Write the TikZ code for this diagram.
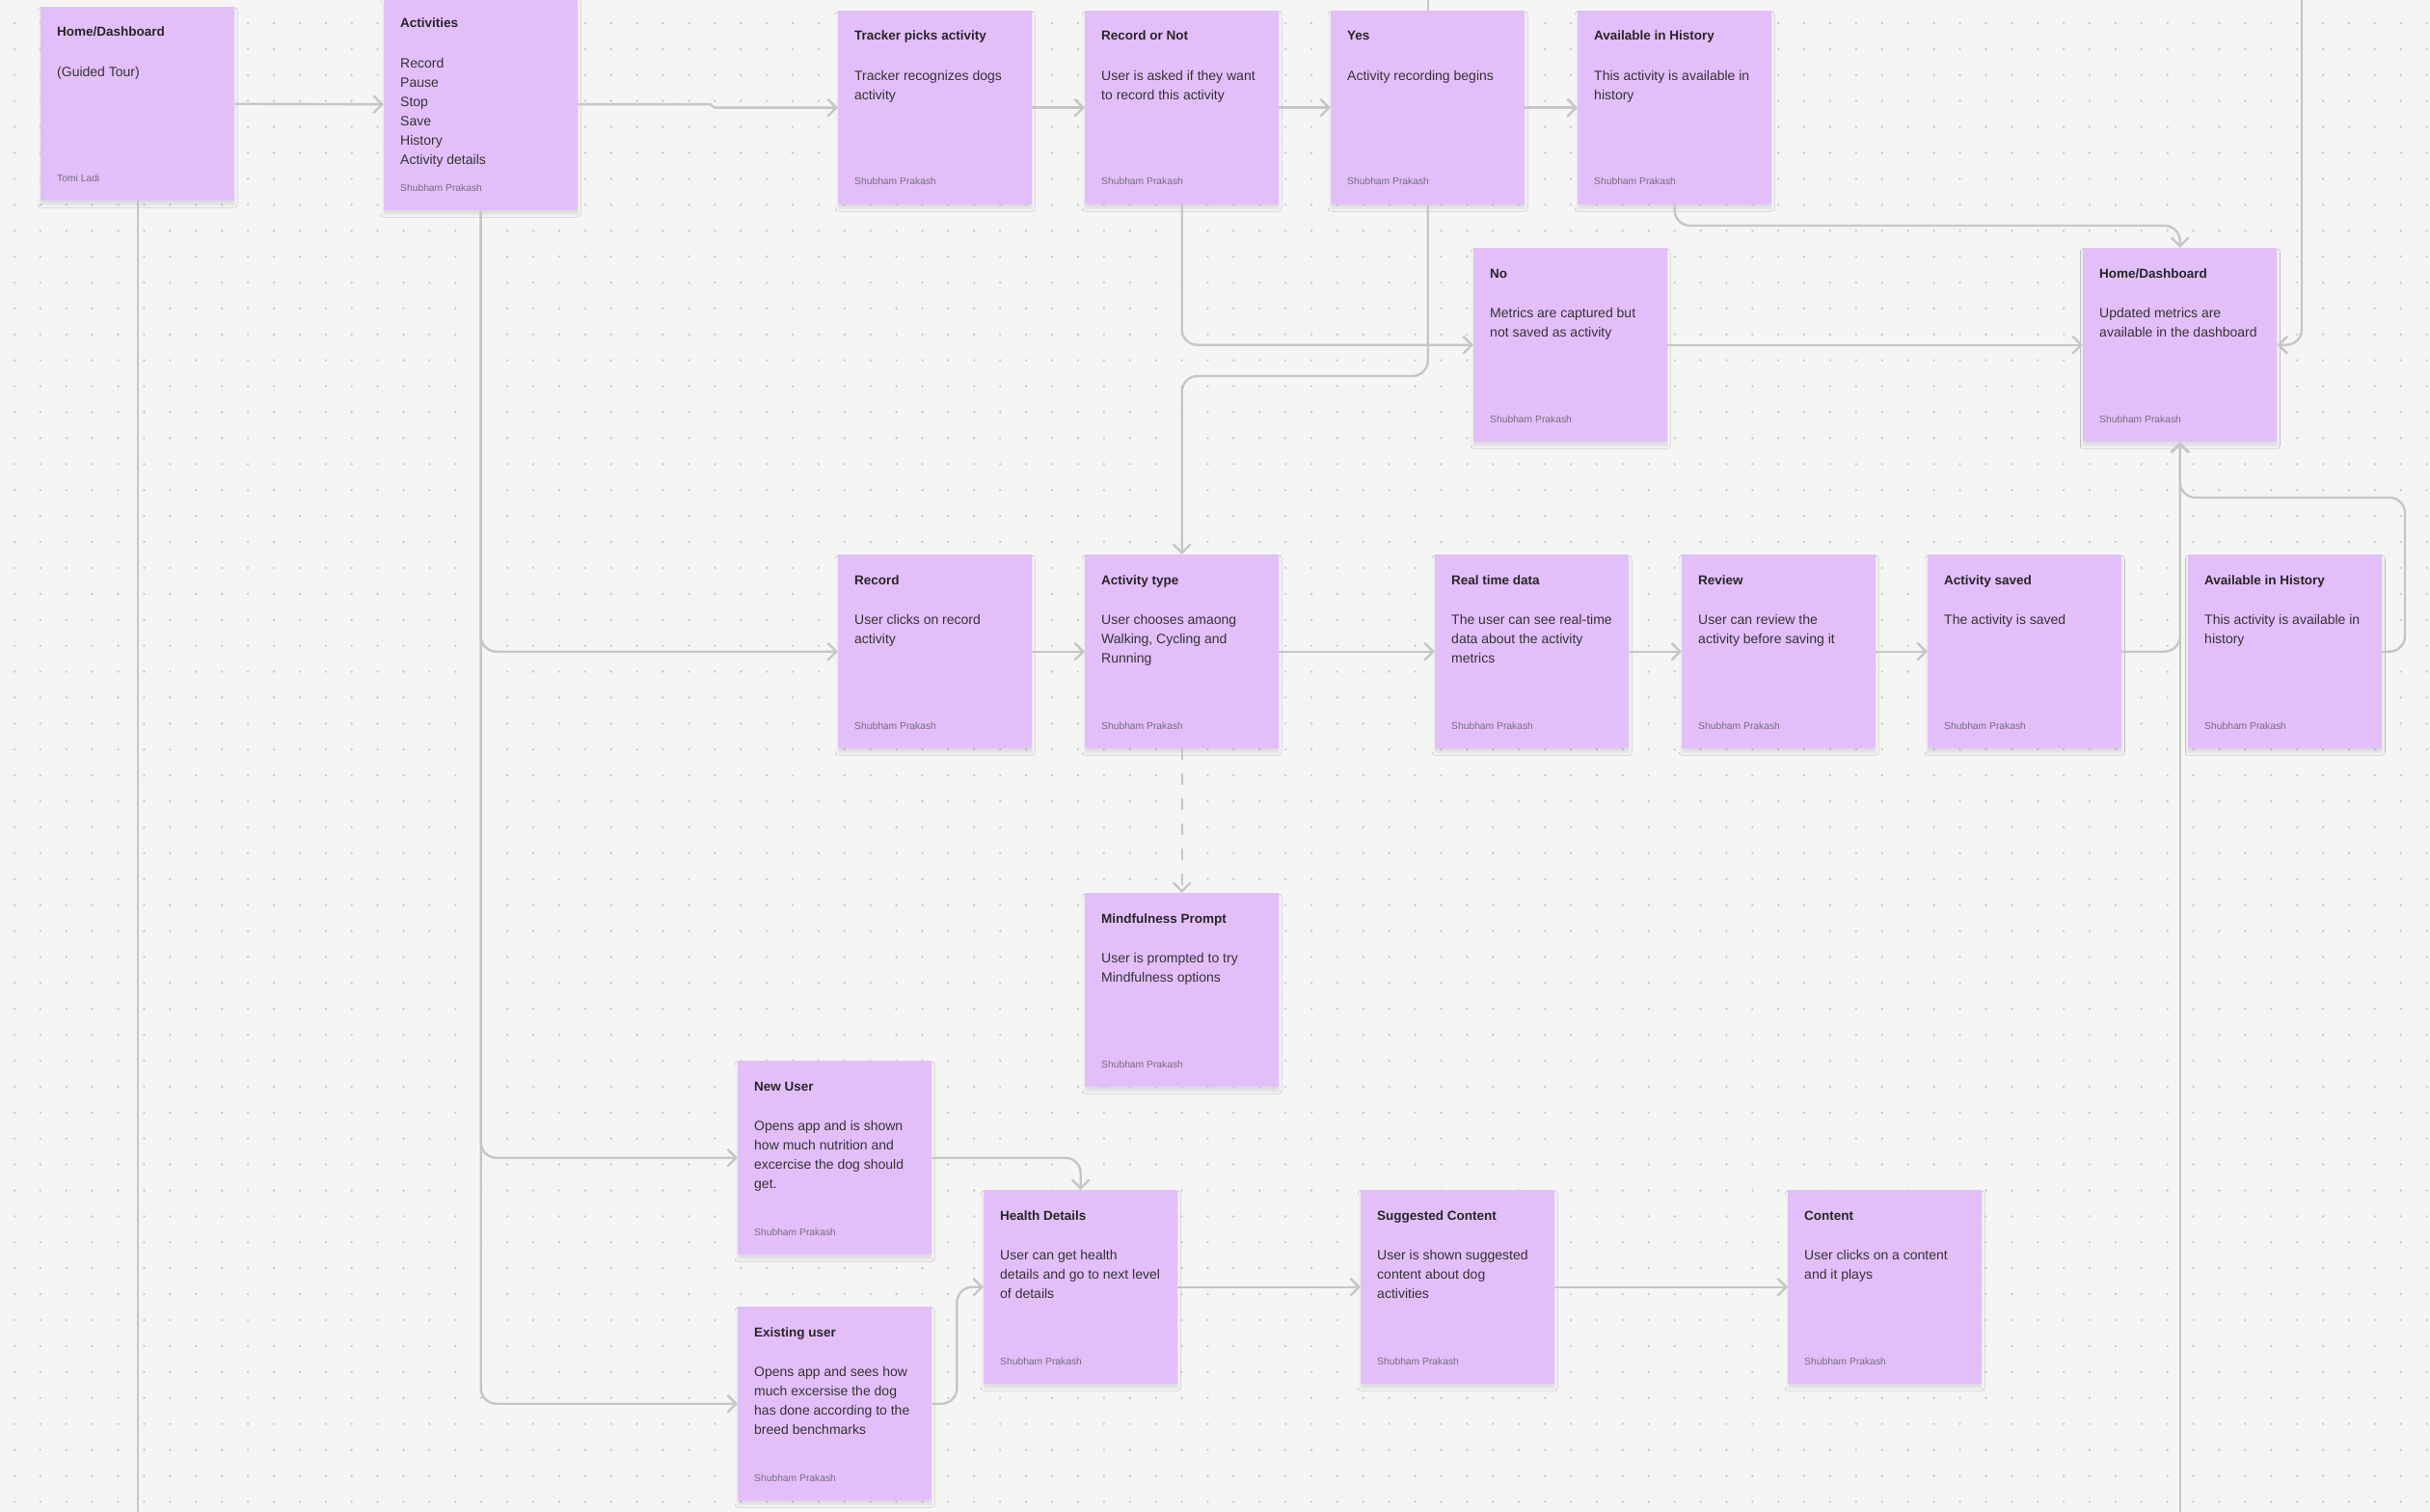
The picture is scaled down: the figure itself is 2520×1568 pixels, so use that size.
\documentclass[tikz,border=0pt]{standalone}
\usepackage{fontspec}
\setmainfont{Liberation Sans}
\usetikzlibrary{arrows.meta,calc,shadows.blur}
\definecolor{bg}{RGB}{245,245,245}
\definecolor{cardc}{RGB}{227,191,250}
\definecolor{linec}{RGB}{198,198,198}
\definecolor{dotc}{RGB}{200,200,200}
\definecolor{ttlc}{RGB}{38,38,38}
\definecolor{bodyc}{RGB}{51,51,51}
\definecolor{authc}{RGB}{118,108,124}
\tikzset{
 cardbox/.style={draw=none, fill=cardc, minimum width=201pt, inner sep=0pt, anchor=north west,
   blur shadow={shadow xshift=0pt, shadow yshift=-4pt, shadow blur radius=3pt, shadow opacity=10}},
 ttl/.style={anchor=base west, inner sep=0pt, font=\bfseries\fontsize{13.5}{16}\selectfont, text=ttlc},
 bodytext/.style={anchor=north west, inner sep=0pt, align=left, font=\fontsize{14}{20}\selectfont, text=bodyc},
 auth/.style={anchor=base west, inner sep=0pt, font=\fontsize{10.3}{12}\selectfont, text=authc},
 conn/.style={draw=linec, line width=2.4pt, rounded corners=16pt},
 arr/.style={conn, -{Straight Barb[length=9pt,width=18pt]}},
}
\newcommand{\mkcard}[7]{%
  \node[cardbox, minimum height=#4pt] (#1) at (#2,#3) {};
  \node[ttl] (#1-t) at ($(#1.north west)+(17,31)$) {#5};
  \node[bodytext] (#1-b) at ($(#1.north west)+(17,58)$) {\strut#6};
  \node[auth] (#1-a) at ($(#1.north west)+(17,#4-20)$) {#7};
}
\begin{document}
\begin{tikzpicture}[x=1pt,y=-1pt]
\useasboundingbox (0,0) rectangle (2520,1568);
\fill[bg] (0,0) rectangle (2520,1568);
\foreach \i in {0,...,93} {
  \foreach \j in {0,...,57} {
    \fill[dotc] ({15+26.9*\i},{24+26.9*\j}) circle (1.3pt);
  }
}
% cards
\mkcard{hd1}{42}{7}{201}{Home/Dashboard}{(Guided Tour)}{Tomi Ladi}
\mkcard{act}{398}{-2}{220}{Activities}{Record\\Pause\\Stop\\Save\\History\\Activity details}{Shubham Prakash}
\mkcard{trk}{869}{11}{201}{Tracker picks activity}{Tracker recognizes dogs\\activity}{Shubham Prakash}
\mkcard{ron}{1125}{11}{201}{Record or Not}{User is asked if they want\\to record this activity}{Shubham Prakash}
\mkcard{yes}{1380}{11}{201}{Yes}{Activity recording begins}{Shubham Prakash}
\mkcard{av1}{1636}{11}{201}{Available in History}{This activity is available in\\history}{Shubham Prakash}
\mkcard{no}{1528}{257}{201}{No}{Metrics are captured but\\not saved as activity}{Shubham Prakash}
\mkcard{hd2}{2160}{257}{201}{Home/Dashboard}{Updated metrics are\\available in the dashboard}{Shubham Prakash}
\mkcard{rec}{869}{575}{201}{Record}{User clicks on record\\activity}{Shubham Prakash}
\mkcard{atype}{1125}{575}{201}{Activity type}{User chooses amaong\\Walking, Cycling and\\Running}{Shubham Prakash}
\mkcard{rtd}{1488}{575}{201}{Real time data}{The user can see real-time\\data about the activity\\metrics}{Shubham Prakash}
\mkcard{rev}{1744}{575}{201}{Review}{User can review the\\activity before saving it}{Shubham Prakash}
\mkcard{sav}{1999}{575}{201}{Activity saved}{The activity is saved}{Shubham Prakash}
\mkcard{av2}{2269}{575}{201}{Available in History}{This activity is available in\\history}{Shubham Prakash}
\mkcard{mind}{1125}{926}{201}{Mindfulness Prompt}{User is prompted to try\\Mindfulness options}{Shubham Prakash}
\mkcard{nu}{765}{1100}{201}{New User}{Opens app and is shown\\how much nutrition and\\excercise the dog should\\get.}{Shubham Prakash}
\mkcard{hlth}{1020}{1234}{201}{Health Details}{User can get health\\details and go to next level\\of details}{Shubham Prakash}
\mkcard{sug}{1411}{1234}{201}{Suggested Content}{User is shown suggested\\content about dog\\activities}{Shubham Prakash}
\mkcard{cont}{1854}{1234}{201}{Content}{User clicks on a content\\and it plays}{Shubham Prakash}
\mkcard{exu}{765}{1355}{201}{Existing user}{Opens app and sees how\\much excersise the dog\\has done according to the\\breed benchmarks}{Shubham Prakash}
% free ends
\coordinate (yestop) at (yes.north |- 0,0);
\coordinate (rtop) at (2387,0);
\coordinate (hdbot) at (hd1.south |- 0,1568);
\coordinate (h2bot) at (hd2.south |- 0,1568);
\coordinate (av2r) at (2494,516);
% connectors
\draw[arr] (hd1.east) -- (act.west);
\draw[arr, sharp corners] (act.east) -- ($(act.east)+(137,0)$) -- ($(trk.west)+(-128,0)$) -- (trk.west);
\draw[arr] (trk.east) -- (ron.west);
\draw[arr] (ron.east) -- (yes.west);
\draw[arr] (yes.east) -- (av1.west);
\draw[arr] (av1.south) -- (av1.south |- 0,234) -| (hd2.north);
\draw[arr] (ron.south) |- (no.west);
\draw[arr] (yes.south) -- (yes.south |- 0,390) -| (atype.north);
\draw[conn] (yes.north) -- (yestop);
\draw[arr] (no.east) -- (hd2.west);
\draw[arr] (rtop) |- (hd2.east);
\draw[arr] (act.south) |- (rec.west);
\draw[arr] (act.south) |- (nu.west);
\draw[arr] (act.south) |- (exu.west);
\draw[conn] (hd1.south) -- (hdbot);
\draw[arr] (rec.east) -- (atype.west);
\draw[arr] (atype.east) -- (rtd.west);
\draw[arr] (rtd.east) -- (rev.west);
\draw[arr] (rev.east) -- (sav.west);
\draw[arr] (sav.east) -| (hd2.south);
\draw[arr] (h2bot) -- (hd2.south);
\draw[arr] (av2.east) -| (av2r) -| (hd2.south);
\draw[arr, dash pattern=on 12pt off 14pt] (atype.south) -- (mind.north);
\draw[arr] (nu.east) -| (hlth.north);
\draw[arr] (exu.east) -- ($(exu.east)+(26,0)$) |- (hlth.west);
\draw[arr] (hlth.east) -- (sug.west);
\draw[arr] (sug.east) -- (cont.west);
\end{tikzpicture}
\end{document}
